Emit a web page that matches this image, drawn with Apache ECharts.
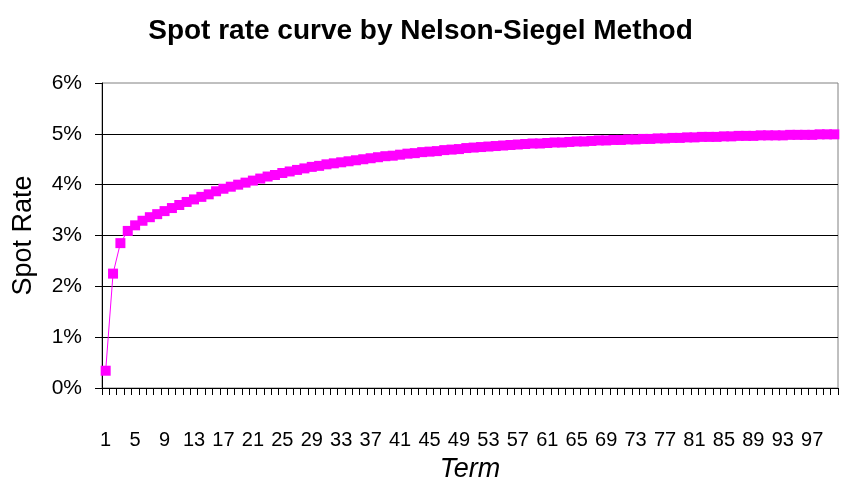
<!DOCTYPE html>
<html>
<head>
<meta charset="utf-8">
<script src="https://cdn.jsdelivr.net/npm/echarts@6/dist/echarts.min.js"></script>
<style>
    html, body { margin: 0; padding: 0; background: #fff; }
    #main { width: 841px; height: 477px; }
</style>
</head>
<body>
<div id="main"></div>
<script>
// terms 1..100
var terms = [];
for (var i = 1; i <= 100; i++) { terms.push(String(i)); }

// spot rate in percent
var spotRates = [
    0.34, 2.25, 2.85, 3.09, 3.20, 3.29, 3.36, 3.42, 3.48, 3.54,
    3.60, 3.66, 3.71, 3.76, 3.81, 3.87, 3.92, 3.96, 4.00, 4.04,
    4.08, 4.12, 4.16, 4.19, 4.23, 4.26, 4.29, 4.32, 4.35, 4.37,
    4.40, 4.42, 4.44, 4.46, 4.48, 4.50, 4.52, 4.54, 4.56, 4.57,
    4.59, 4.61, 4.62, 4.64, 4.65, 4.66, 4.68, 4.69, 4.70, 4.72,
    4.73, 4.74, 4.75, 4.76, 4.77, 4.78, 4.79, 4.80, 4.81, 4.81,
    4.82, 4.83, 4.83, 4.84, 4.85, 4.85, 4.86, 4.87, 4.87, 4.88,
    4.88, 4.89, 4.89, 4.90, 4.90, 4.91, 4.91, 4.92, 4.92, 4.93,
    4.93, 4.94, 4.94, 4.94, 4.95, 4.95, 4.96, 4.96, 4.96, 4.97,
    4.97, 4.97, 4.97, 4.98, 4.98, 4.98, 4.98, 4.99, 4.99, 4.99
];

var yTicks = { min: 0, max: 6, step: 1 };

var font = 'Arial, "Liberation Sans", sans-serif';

var option = {
    animation: false,
    title: {
        text: 'Spot rate curve by Nelson-Siegel Method',
        left: 'center',
        top: 12,
        textStyle: { fontFamily: font, fontSize: 28, fontWeight: 'bold', color: '#000' }
    },
    grid: {
        left: 102, right: 3, top: 83, bottom: 89,
        outerBoundsMode: 'none',
        containLabel: false,
        show: true, borderColor: '#808080', borderWidth: 1, backgroundColor: '#fff'
    },
    xAxis: {
        type: 'category',
        data: terms,
        boundaryGap: true,
        name: 'Term',
        nameLocation: 'middle',
        nameGap: 68,
        nameTextStyle: { fontFamily: font, fontSize: 27, fontStyle: 'italic', color: '#000' },
        axisLine: { show: true, lineStyle: { color: '#000', width: 1 } },
        axisTick: { show: true, inside: false, interval: 0, length: 7, lineStyle: { color: '#000', width: 1 } },
        axisLabel: { interval: 3, margin: 42, fontFamily: font, fontSize: 20, color: '#000' },
        splitLine: { show: false }
    },
    yAxis: {
        type: 'value',
        min: yTicks.min,
        max: yTicks.max,
        interval: yTicks.step,
        name: 'Spot Rate',
        nameLocation: 'middle',
        nameGap: 65,
        nameTextStyle: { fontFamily: font, fontSize: 27, color: '#000' },
        axisLine: { show: true, lineStyle: { color: '#000', width: 1 } },
        axisTick: { show: true, inside: false, length: 7, lineStyle: { color: '#000', width: 1 } },
        axisLabel: { formatter: '{value}%', margin: 20, fontFamily: font, fontSize: 21, color: '#000' },
        splitLine: { show: true, showMaxLine: false, lineStyle: { color: '#000', width: 1 } }
    },
    series: [{
        type: 'line',
        data: spotRates,
        symbol: 'rect',
        symbolSize: 10,
        showAllSymbol: true,
        itemStyle: { color: '#ff00ff' },
        lineStyle: { color: '#ff00ff', width: 1 }
    }]
};

var myChart = echarts.init(document.getElementById('main'));
myChart.setOption(option);
</script>
</body>
</html>
